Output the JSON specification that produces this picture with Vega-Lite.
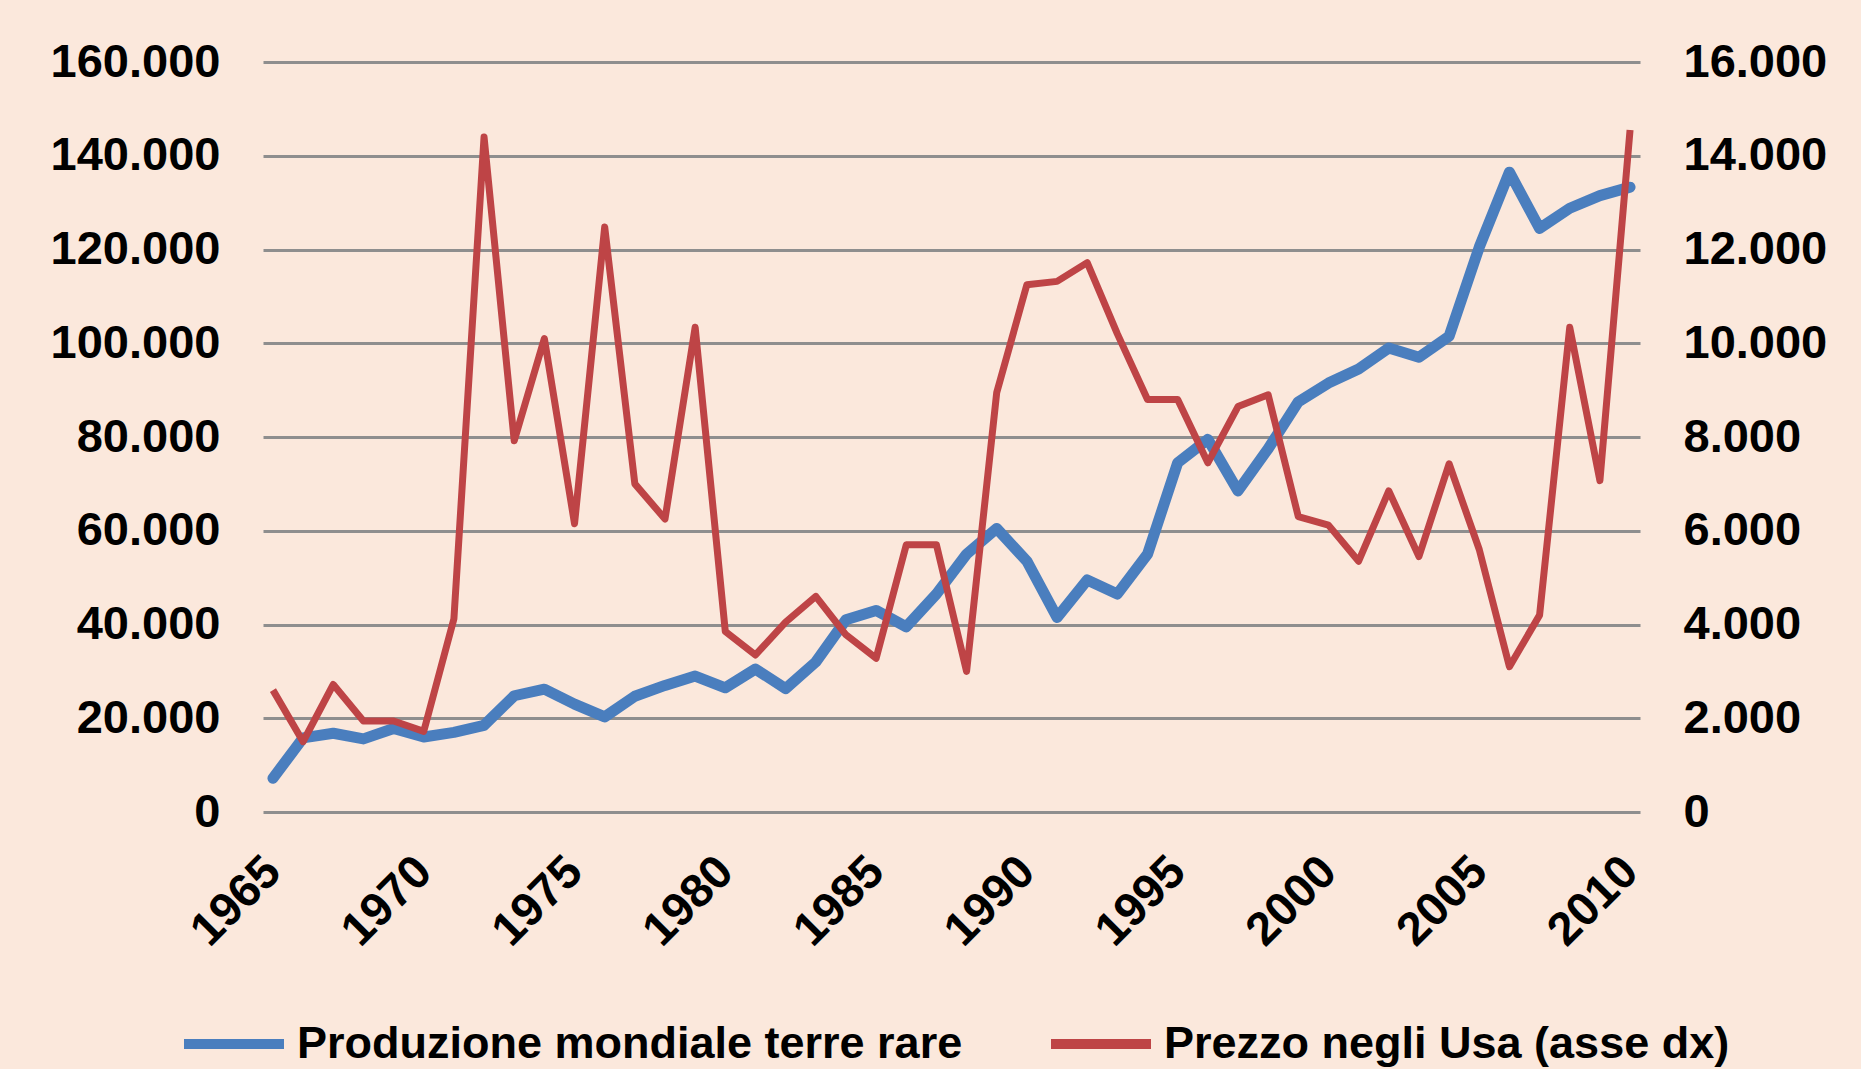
{
  "$schema": "https://vega.github.io/schema/vega-lite/v6.json",
  "autosize": "none",
  "width": 1377,
  "height": 750,
  "padding": {"left": 263, "top": 62, "right": 221, "bottom": 257},
  "background": "#FBE8DC",
  "config": {
    "view": {"stroke": null},
    "axis": {
      "labelFont": "Liberation Sans",
      "labelFontWeight": "bold",
      "labelFontSize": 47,
      "labelColor": "#000000",
      "domain": false,
      "ticks": false,
      "title": null
    },
    "legend": {
      "labelFont": "Liberation Sans",
      "labelFontWeight": "bold",
      "labelFontSize": 45,
      "labelColor": "#000000"
    }
  },
  "data": {
    "values": [
      {"anno": 1965, "prod": 7200, "prezzo": 2600},
      {"anno": 1966, "prod": 15800, "prezzo": 1500},
      {"anno": 1967, "prod": 16800, "prezzo": 2720},
      {"anno": 1968, "prod": 15600, "prezzo": 1940},
      {"anno": 1969, "prod": 17800, "prezzo": 1940},
      {"anno": 1970, "prod": 16000, "prezzo": 1720},
      {"anno": 1971, "prod": 17000, "prezzo": 4120},
      {"anno": 1972, "prod": 18500, "prezzo": 14400},
      {"anno": 1973, "prod": 24800, "prezzo": 7920},
      {"anno": 1974, "prod": 26200, "prezzo": 10100},
      {"anno": 1975, "prod": 23000, "prezzo": 6150},
      {"anno": 1976, "prod": 20300, "prezzo": 12480},
      {"anno": 1977, "prod": 24700, "prezzo": 7000},
      {"anno": 1978, "prod": 27000, "prezzo": 6250},
      {"anno": 1979, "prod": 29000, "prezzo": 10340},
      {"anno": 1980, "prod": 26500, "prezzo": 3850},
      {"anno": 1981, "prod": 30500, "prezzo": 3350},
      {"anno": 1982, "prod": 26300, "prezzo": 4050},
      {"anno": 1983, "prod": 32000, "prezzo": 4600},
      {"anno": 1984, "prod": 41000, "prezzo": 3780},
      {"anno": 1985, "prod": 43000, "prezzo": 3280},
      {"anno": 1986, "prod": 39500, "prezzo": 5700},
      {"anno": 1987, "prod": 46500, "prezzo": 5700},
      {"anno": 1988, "prod": 55000, "prezzo": 3000},
      {"anno": 1989, "prod": 60500, "prezzo": 8950},
      {"anno": 1990, "prod": 53500, "prezzo": 11250},
      {"anno": 1991, "prod": 41500, "prezzo": 11320},
      {"anno": 1992, "prod": 49500, "prezzo": 11720},
      {"anno": 1993, "prod": 46500, "prezzo": 10200},
      {"anno": 1994, "prod": 55000, "prezzo": 8800},
      {"anno": 1995, "prod": 74500, "prezzo": 8800},
      {"anno": 1996, "prod": 79500, "prezzo": 7450},
      {"anno": 1997, "prod": 68500, "prezzo": 8650},
      {"anno": 1998, "prod": 77500, "prezzo": 8900},
      {"anno": 1999, "prod": 87500, "prezzo": 6300},
      {"anno": 2000, "prod": 91500, "prezzo": 6120},
      {"anno": 2001, "prod": 94500, "prezzo": 5350},
      {"anno": 2002, "prod": 99000, "prezzo": 6850},
      {"anno": 2003, "prod": 97000, "prezzo": 5450},
      {"anno": 2004, "prod": 101500, "prezzo": 7430},
      {"anno": 2005, "prod": 120500, "prezzo": 5600},
      {"anno": 2006, "prod": 136500, "prezzo": 3100},
      {"anno": 2007, "prod": 124500, "prezzo": 4200},
      {"anno": 2008, "prod": 128800, "prezzo": 10340},
      {"anno": 2009, "prod": 131500, "prezzo": 7070},
      {"anno": 2010, "prod": 133300, "prezzo": 14550}
    ]
  },
  "encoding": {
    "x": {
      "field": "anno",
      "type": "quantitative",
      "scale": {"domain": [1964.67, 2010.33], "nice": false, "zero": false},
      "axis": {
        "values": [1965, 1970, 1975, 1980, 1985, 1990, 1995, 2000, 2005, 2010],
        "format": "d",
        "labelAngle": -45,
        "labelAlign": "right",
        "labelBaseline": "middle",
        "labelPadding": 52,
        "grid": false
      }
    }
  },
  "layer": [
    {
      "mark": {"type": "line", "strokeWidth": 11, "strokeJoin": "round", "strokeCap": "round"},
      "encoding": {
        "y": {
          "field": "prod",
          "type": "quantitative",
          "scale": {"domain": [0, 160000], "nice": false},
          "axis": {
            "orient": "left",
            "values": [0, 20000, 40000, 60000, 80000, 100000, 120000, 140000, 160000],
            "labelExpr": "replace(format(datum.value, ','), ',', '.')",
            "labelPadding": 43,
            "grid": true,
            "gridColor": "#8E8E8E",
            "gridWidth": 3
          }
        },
        "color": {
          "datum": "Produzione mondiale terre rare",
          "type": "nominal",
          "scale": {
            "domain": ["Produzione mondiale terre rare", "Prezzo negli Usa (asse dx)"],
            "range": ["#4A7EBE", "#BE4446"]
          },
          "legend": {
            "title": null,
            "orient": "none",
            "legendX": -84,
            "legendY": 927,
            "direction": "horizontal",
            "symbolType": "stroke",
            "symbolSize": 10000,
            "symbolStrokeWidth": 10,
            "labelOffset": 8,
            "columnPadding": 68,
            "labelLimit": 0
          }
        }
      }
    },
    {
      "mark": {"type": "line", "strokeWidth": 7, "strokeJoin": "round"},
      "encoding": {
        "y": {
          "field": "prezzo",
          "type": "quantitative",
          "scale": {"domain": [0, 16000], "nice": false},
          "axis": {
            "orient": "right",
            "values": [0, 2000, 4000, 6000, 8000, 10000, 12000, 14000, 16000],
            "labelExpr": "replace(format(datum.value, ','), ',', '.')",
            "labelPadding": 43,
            "grid": false
          }
        },
        "color": {
          "datum": "Prezzo negli Usa (asse dx)",
          "type": "nominal"
        }
      }
    }
  ],
  "resolve": {"scale": {"y": "independent"}}
}
